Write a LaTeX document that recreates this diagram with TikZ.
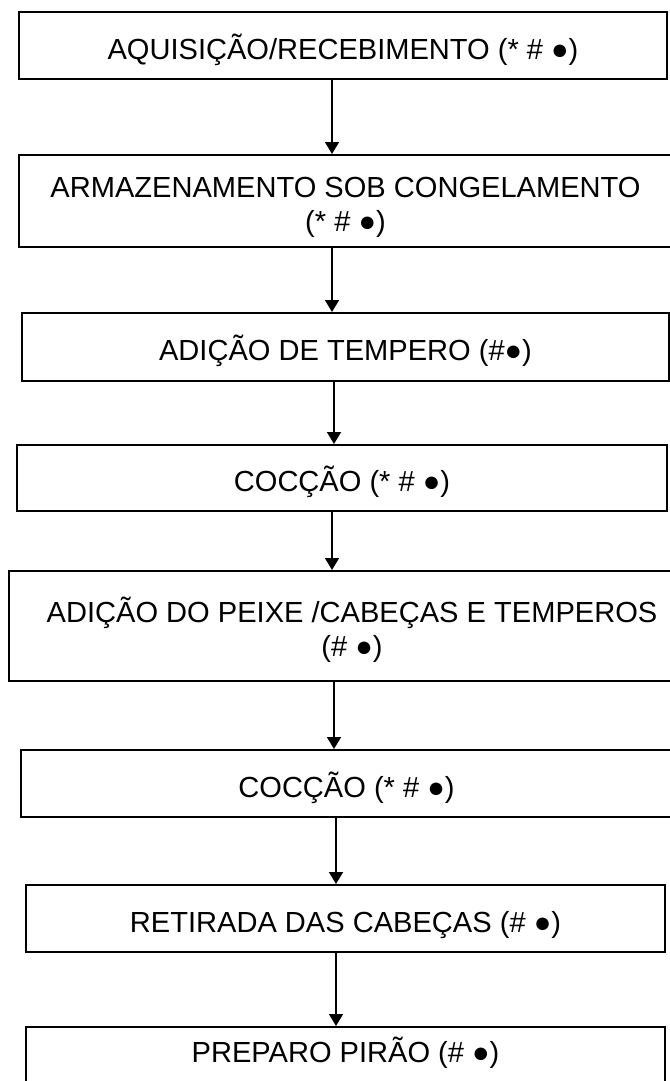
\documentclass[tikz,border=0pt]{standalone}
\usepackage{fontspec}
\setmainfont{Liberation Sans}
\usetikzlibrary{arrows.meta}
\newcommand\topstrut{\rule{0pt}{24.9pt}}
\begin{document}
\begin{tikzpicture}[x=0.75pt,y=-0.75pt,
  stepbox/.style={draw, line width=1.5pt, inner sep=0pt, align=center,
    font=\fontsize{21.8pt}{22pt}\selectfont},
  oneline/.style={stepbox, text height=24.9pt, text depth=4.6pt},
  arr/.style={line width=1.2pt, -{Triangle[width=10.5pt,length=9pt]}}]
\useasboundingbox (0,0) rectangle (670,1081);
\clip (0,0) rectangle (670,1081);
\fill[white] (0,0) rectangle (670,1081);

\node[oneline, minimum width=486pt, minimum height=50.25pt] (b1) at (343,45.5)
  {AQUISIÇÃO/RECEBIMENTO (* \# ●)};
\node[stepbox, minimum width=489.75pt, minimum height=69pt] (b2) at (345.5,201)
  {\topstrut ARMAZENAMENTO SOB CONGELAMENTO\\[3pt](* \# ●)};
\node[oneline, minimum width=485.25pt, minimum height=51pt] (b3) at (345.5,347)
  {ADIÇÃO DE TEMPERO (\#●)};
\node[oneline, minimum width=487.5pt, minimum height=49.5pt] (b4) at (342,478)
  {COCÇÃO (* \# ●)};
\node[stepbox, minimum width=514.5pt, minimum height=82.5pt] (b5) at (352,626)
  {\topstrut ADIÇÃO DO PEIXE /CABEÇAS E TEMPEROS\\[3pt](\# ●)};
\node[oneline, minimum width=488.25pt, minimum height=50.25pt] (b6) at (346.5,783.5)
  {COCÇÃO (* \# ●)};
\node[oneline, minimum width=479.25pt, minimum height=50.25pt] (b7) at (345.5,918.5)
  {RETIRADA DAS CABEÇAS (\# ●)};
\node[stepbox, text height=15.9pt, text depth=12.85pt,
  minimum width=479.25pt, minimum height=50.25pt] (b8) at (345.5,1060.5)
  {PREPARO PIRÃO (\# ●)};

\coordinate (xa) at (332,0);
\coordinate (xb) at (334,0);
\coordinate (xc) at (336,0);

\draw[arr] (b1.south -| xa) -- (b2.north -| xa);
\draw[arr] (b2.south -| xa) -- (b3.north -| xa);
\draw[arr] (b3.south -| xb) -- (b4.north -| xb);
\draw[arr] (b4.south -| xa) -- (b5.north -| xa);
\draw[arr] (b5.south -| xb) -- (b6.north -| xb);
\draw[arr] (b6.south -| xc) -- (b7.north -| xc);
\draw[arr] (b7.south -| xc) -- (b8.north -| xc);
\end{tikzpicture}
\end{document}
